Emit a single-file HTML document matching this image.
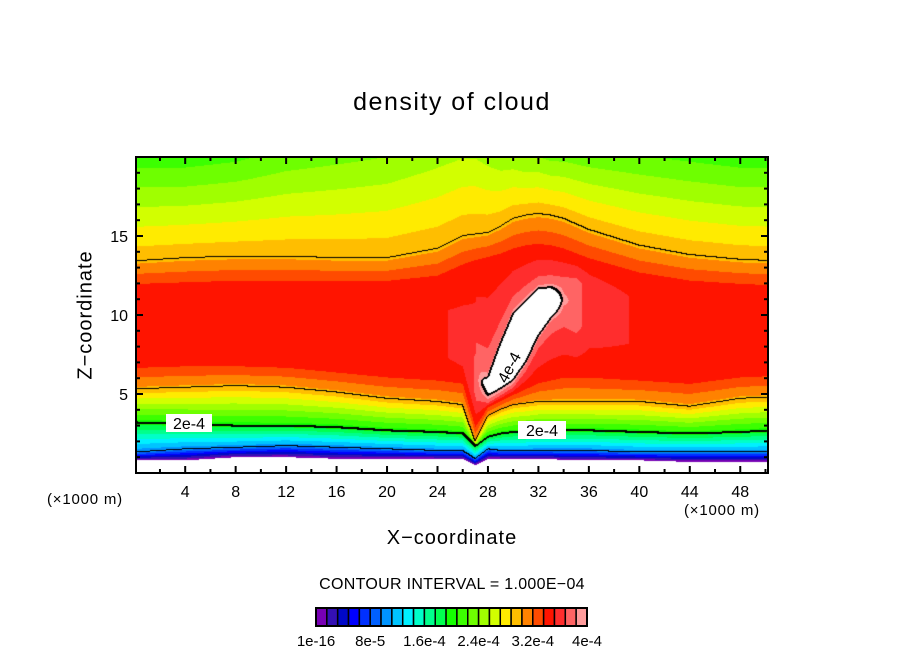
<!DOCTYPE html>
<html><head><meta charset="utf-8"><style>
body{margin:0;background:#fff;}
#wrap{position:relative;width:904px;height:654px;overflow:hidden;background:#fff;font-family:"Liberation Sans",sans-serif;}
.t{position:absolute;white-space:nowrap;color:#000;}
</style></head><body>
<div id="wrap">
<div class="t" style="left:0;width:904px;text-align:center;top:88px;font-size:25px;letter-spacing:1.5px;">density of cloud</div>
<canvas id="cv" width="632" height="316" style="position:absolute;left:136px;top:157px;"></canvas>
<svg id="ov" width="904" height="654" style="position:absolute;left:0;top:0;"></svg>
<div class="t" style="left:86px;top:315px;font-size:20px;letter-spacing:1px;transform:translate(-50%,-50%) rotate(-90deg);">Z−coordinate</div>
<div class="t" style="left:0;width:904px;text-align:center;top:527px;font-size:20px;letter-spacing:1px;">X−coordinate</div>
<div class="t" style="left:47px;top:491px;font-size:15px;letter-spacing:0.8px;">(×1000 m)</div>
<div class="t" style="left:684px;top:502px;font-size:15px;letter-spacing:0.8px;">(×1000 m)</div>
<div class="t" style="left:0;width:904px;text-align:center;top:576px;font-size:16px;letter-spacing:0.3px;">CONTOUR INTERVAL = 1.000E−04</div>
</div>
<script>
// ---- data ----
const xs     = [0,   4,   8,   12,  16,  20,  24,  26,  27,  28,  29,  30,  31,  32,  33,  34,  36,  40,  44,  48,  51];
const zBase  = [0.8, 0.8, 1.0, 1.0, 0.9, 0.9, 0.9, 0.9, 0.5, 0.9, 0.9, 0.9, 0.9, 0.9, 0.9, 0.8, 0.8, 0.8, 0.7, 0.7, 0.7];
const z1e4   = [1.3, 1.5, 1.6, 1.7, 1.6, 1.5, 1.4, 1.4, 0.9, 1.5, 1.4, 1.4, 1.4, 1.4, 1.4, 1.4, 1.4, 1.3, 1.3, 1.3, 1.3];
const z2e4   = [3.2, 3.1, 3.0, 3.0, 2.9, 2.7, 2.6, 2.5, 1.7, 2.3, 2.5, 2.6, 2.6, 2.7, 2.7, 2.7, 2.7, 2.6, 2.5, 2.6, 2.7];
const z3lo   = [5.3, 5.4, 5.5, 5.4, 5.1, 4.7, 4.5, 4.3, 2.0, 3.6, 4.0, 4.3, 4.4, 4.5, 4.5, 4.5, 4.5, 4.5, 4.2, 4.7, 4.8];
const zRedLo = [6.8, 6.9, 6.9, 6.8, 6.5, 6.2, 6.0, 5.8, 3.0, 4.2, 4.6, 5.0, 5.4, 5.8, 6.0, 6.2, 6.2, 6.0, 5.8, 6.2, 6.3];
const zPeak  = [9.0, 9.0, 9.0, 9.0, 9.0, 9.0, 9.0, 8.5, 6.0, 5.5, 6.8, 8.0, 9.0, 10.2,10.8,11.0,10.5,9.5, 9.0, 9.0, 9.0];
const wPeak  = [1.5, 1.5, 1.5, 1.5, 1.5, 1.5, 1.5, 1.5, 1.0, 1.0, 1.8, 2.5, 2.3, 1.8, 1.3, 1.0, 1.5, 1.5, 1.5, 1.5, 1.5];
const vPeak  = [3.48e-4,3.48e-4,3.5e-4,3.5e-4,3.45e-4,3.45e-4,3.5e-4,3.55e-4,3.7e-4,4.3e-4,5.0e-4,5.3e-4,5.3e-4,5.2e-4,4.7e-4,3.9e-4,3.6e-4,3.5e-4,3.48e-4,3.48e-4,3.48e-4];
const zRedHi = [11.8,11.9,12.0,12.0,12.0,12.0,12.3,13.0,13.3,13.5,13.7,14.0,14.2,14.3,14.2,14.0,13.4,12.5,12.0,11.8,11.7];
const z3hi   = [13.4,13.6,13.7,13.7,13.6,13.6,14.2,15.0,15.1,15.2,15.6,16.1,16.3,16.4,16.3,16.1,15.4,14.4,13.8,13.5,13.4];
const vTop   = [2.15e-4,2.15e-4,2.2e-4,2.3e-4,2.35e-4,2.4e-4,2.5e-4,2.55e-4,2.55e-4,2.5e-4,2.45e-4,2.45e-4,2.4e-4,2.4e-4,2.35e-4,2.35e-4,2.3e-4,2.25e-4,2.2e-4,2.15e-4,2.15e-4];
const colors = ['#7800b4','#3410b4','#0008c8','#0000ff','#0030ff','#0060ff','#0094ff','#00c4ff','#00f0ff','#00ffc8','#00ff8c','#00ff50','#14ff00','#3cff00','#6eff00','#a0ff00','#d2ff00','#ffeb00','#ffbe00','#ff8200','#ff4b00','#ff1400','#ff2d2d','#ff6464','#ff9c9c'];
const cbLabels = ['1e-16','8e-5','1.6e-4','2.4e-4','3.2e-4','4e-4'];
const xTicks = [4,8,12,16,20,24,28,32,36,40,44,48];
const yTicks = [5,10,15];
const step = 1.6e-5;

// ---- scales ----
const PL=136,PT=157,PW=632,PH=316,XMIN=0.1,XMAX=50.2,ZMAX=20;
const sx = x => PL + (x-XMIN)/(XMAX-XMIN)*PW;
const sy = z => PT + PH - z/ZMAX*PH;

function lerpArr(arr,x){
  let i=0; while(i<xs.length-2 && x>xs[i+1]) i++;
  const t=Math.max(0,Math.min(1,(x-xs[i])/(xs[i+1]-xs[i])));
  return arr[i]+(arr[i+1]-arr[i])*t;
}
function value(x,z){
  const zp=lerpArr(zPeak,x),w=lerpArr(wPeak,x),vp=lerpArr(vPeak,x);
  const sh=Math.min(vp,3.75e-4);
  const kz=[lerpArr(zBase,x),lerpArr(z1e4,x),lerpArr(z2e4,x),lerpArr(z3lo,x),lerpArr(zRedLo,x),zp-w,zp,zp+w,lerpArr(zRedHi,x),lerpArr(z3hi,x),20.01];
  const kv=[0,1e-4,2e-4,3e-4,3.4e-4,sh,vp,sh,3.4e-4,3e-4,lerpArr(vTop,x)];
  if(z<kz[0]) return -1;
  for(let i=0;i<kz.length-1;i++){
    if(z<=kz[i+1]){const d=kz[i+1]-kz[i];const t=d>0?(z-kz[i])/d:1;return kv[i]+(kv[i+1]-kv[i])*t;}
  }
  return kv[kv.length-1];
}
function hex(c){return [parseInt(c.substr(1,2),16),parseInt(c.substr(3,2),16),parseInt(c.substr(5,2),16)];}
const rgb=colors.map(hex);

// ---- render field ----
const cv=document.getElementById('cv'),ctx=cv.getContext('2d');
const img=ctx.createImageData(PW,PH);
const V=new Float32Array(PW*PH);
for(let py=0;py<PH;py++)for(let px=0;px<PW;px++){
  const x=XMIN+(px+0.5)/PW*(XMAX-XMIN), z=ZMAX-(py+0.5)/PH*ZMAX;
  V[py*PW+px]=value(x,z);
}
const lev=v=>v<0?-1:Math.floor(v/1e-4);
for(let py=0;py<PH;py++)for(let px=0;px<PW;px++){
  const v=V[py*PW+px],o=(py*PW+px)*4;
  let c=[255,255,255];
  if(v>=0 && v<4e-4){c=rgb[Math.min(colors.length-1,Math.floor(v/step))];}
  img.data[o]=c[0];img.data[o+1]=c[1];img.data[o+2]=c[2];img.data[o+3]=255;
}
function dark(px,py){if(px<0||py<0||px>=PW||py>=PH)return;const o=(py*PW+px)*4;img.data[o]=0;img.data[o+1]=0;img.data[o+2]=0;}
for(let py=0;py<PH-1;py++)for(let px=0;px<PW-1;px++){
  const a=lev(V[py*PW+px]),b=lev(V[py*PW+px+1]),c=lev(V[(py+1)*PW+px]);
  const chk=(l1,l2)=>{if(l1!==l2&&l1>=0&&l2>=0){const L=Math.max(Math.min(l1,4),Math.min(l2,4));if(Math.min(l1,4)===Math.min(l2,4))return;dark(px,py);if(L===2||L===4){dark(px,py+1);dark(px+1,py);}}};
  chk(a,b);chk(a,c);
}
ctx.putImageData(img,0,0);

// ---- overlay ----
const ov=document.getElementById('ov'),NS='http://www.w3.org/2000/svg';
function mk(tag,attrs,txt){const e=document.createElementNS(NS,tag);for(const k in attrs)e.setAttribute(k,attrs[k]);if(txt!==undefined)e.textContent=txt;ov.appendChild(e);return e;}
let r=mk('rect',{x:166,y:414,width:46,height:18,fill:'#fff'});

let t=mk('text',{x:189,y:429,'font-size':16,'text-anchor':'middle','font-family':'Liberation Sans, sans-serif'},'2e-4');

r=mk('rect',{x:518,y:421,width:48,height:18,fill:'#fff'});

t=mk('text',{x:542,y:436,'font-size':16,'text-anchor':'middle','font-family':'Liberation Sans, sans-serif'},'2e-4');

t=mk('text',{x:0,y:0,'font-size':16,'text-anchor':'middle','font-family':'Liberation Sans, sans-serif',transform:'translate(514,370) rotate(-62)'},'4e-4');

r=mk('rect',{x:PL,y:PT,width:PW,height:PH,fill:'none',stroke:'#000','stroke-width':2});

for(let x=2;x<=50;x+=2){
  const major=x%4===0,len=major?7:4,X=sx(x);
  let l=mk('line',{x1:X,x2:X,y1:PT+PH,y2:PT+PH-len,stroke:'#000','stroke-width':2});
  
  l=mk('line',{x1:X,x2:X,y1:PT,y2:PT+len,stroke:'#000','stroke-width':2});
  
}
xTicks.forEach(v=>{
  const e=mk('text',{x:sx(v),y:497,'font-size':16,'text-anchor':'middle','font-family':'Liberation Sans, sans-serif'},String(v));
  
});
for(let z=1;z<20;z++){
  const len=z%5===0?7:4,Y=sy(z);
  let l=mk('line',{x1:PL,x2:PL+len,y1:Y,y2:Y,stroke:'#000','stroke-width':2});
  
  l=mk('line',{x1:PL+PW,x2:PL+PW-len,y1:Y,y2:Y,stroke:'#000','stroke-width':2});
  
}
yTicks.forEach(v=>{
  const e=mk('text',{x:128,y:sy(v)+6,'font-size':16,'text-anchor':'end','font-family':'Liberation Sans, sans-serif'},String(v));
  
});
const CBX=316,CBY=608,CBW=271,CBH=18,bw=CBW/colors.length;
colors.forEach((c,i)=>{
  const e=mk('rect',{x:CBX+i*bw,y:CBY,width:bw,height:CBH,fill:c,stroke:'#000','stroke-width':1.5});
  
});
r=mk('rect',{x:CBX,y:CBY,width:CBW,height:CBH,fill:'none',stroke:'#000','stroke-width':2});

cbLabels.forEach((s,i)=>{
  const e=mk('text',{x:CBX+i*5*bw,y:646,'font-size':15,'text-anchor':'middle','font-family':'Liberation Sans, sans-serif'},s);
  
});
</script>
</body></html>
